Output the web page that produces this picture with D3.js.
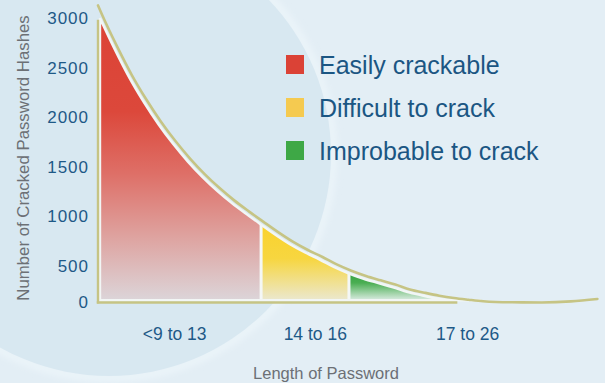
<!DOCTYPE html>
<html>
<head>
<meta charset="utf-8">
<script src="https://cdn.jsdelivr.net/npm/d3@7"></script>
<style>
  html, body { margin: 0; padding: 0; background: #e2eef5; }
  svg { display: block; font-family: "Liberation Sans", Arial, sans-serif; }
</style>
</head>
<body>
<svg id="chart" width="605" height="383"></svg>
<script>
// Password length (characters) sampled along the curve
const lengths = [7.85, 8, 8.5, 9, 9.5, 10, 10.5, 11, 11.5, 12, 12.5, 13, 13.5, 14, 14.5,
                 15, 15.5, 16, 16.5, 17, 17.5, 18, 18.5, 19, 19.5, 20, 20.5, 21, 22, 23, 24, 24.9];
// Number of cracked password hashes at each length
const crackedHashes = [3102, 3000, 2688, 2401, 2151, 1927, 1729, 1552, 1395, 1256, 1132, 1021, 915, 811, 715,
                       633, 562, 479, 393, 321, 262, 205, 138, 93, 52, 20, -3, -23, -38, -40, -26, 7];

// Length ranges for each crackability class
const bandStart = [8, 13.5, 16.5];
const bandEnd   = [13.5, 16.5, 20.3];
const bandNames = ["Easily crackable", "Difficult to crack", "Improbable to crack"];

// Category labels under the axis and where they sit on the length scale
const categories = ["<9 to 13", "14 to 16", "17 to 26"];
const categoryAt = [10.55, 15.35, 20.55];

const yTicks = [0, 500, 1000, 1500, 2000, 2500, 3000];
const axisEndLength = 20.2;

const svg = d3.select("#chart");
const W = 605, H = 383;

const x = d3.scaleLinear().domain([8, 24.9]).range([100, 595]);
// the lowest step of the value axis is drawn compressed
const y = d3.scaleLinear().domain([0, 500, 3000]).range([302.3, 265.7, 18.3]);

const points = lengths.map((L, i) => ({ L, v: crackedHashes[i] }));
const valueAt = d3.scaleLinear().domain(lengths).range(crackedHashes);

const defs = svg.append("defs");

// background with the large soft disc
svg.append("rect").attr("width", W).attr("height", H).attr("fill", "#e3eef5");
const soft = defs.append("filter").attr("id", "soft")
  .attr("x", "-20%").attr("y", "-20%").attr("width", "140%").attr("height", "140%");
soft.append("feGaussianBlur").attr("stdDeviation", 3);
svg.append("circle").attr("cx", 109).attr("cy", 154).attr("r", 224)
  .attr("fill", "none").attr("stroke", "#ebf4f9").attr("stroke-width", 8).attr("filter", "url(#soft)");
svg.append("circle").attr("cx", 109).attr("cy", 154).attr("r", 222).attr("fill", "#d8e8f1");

// fill gradients
const gradStops = [
  [[0, "#dc4336"], [0.33, "#dc483b"], [0.55, "#de6f67"], [0.78, "#dea4a1"], [1, "#dcd5d9"]],
  [[0, "#fad22c"], [0.45, "#f7d640"], [1, "#ebe8cf"]],
  [[0, "#37a343"], [0.35, "#4aae52"], [1, "#dcece3"]]
];
const floorY = y(0) - 2;
bandStart.forEach((s, i) => {
  const g = defs.append("linearGradient").attr("id", "grad" + i)
    .attr("gradientUnits", "userSpaceOnUse")
    .attr("x1", 0).attr("x2", 0)
    .attr("y1", y(valueAt(s))).attr("y2", floorY);
  gradStops[i].forEach(([o, c]) => g.append("stop").attr("offset", o).attr("stop-color", c));
});

const area = d3.area()
  .x(d => x(d.L))
  .y0(floorY)
  .y1(d => Math.min(y(d.v), floorY))
  .curve(d3.curveMonotoneX);
const areaPath = area(points.filter(d => d.L >= 8 && d.L <= 21));

defs.append("clipPath").attr("id", "shape").append("path").attr("d", areaPath);

bandStart.forEach((s, i) => {
  defs.append("clipPath").attr("id", "band" + i)
    .append("rect")
    .attr("x", x(s)).attr("y", 0)
    .attr("width", x(bandEnd[i]) - x(s)).attr("height", H);
  svg.append("path")
    .attr("d", areaPath)
    .attr("clip-path", `url(#band${i})`)
    .attr("fill", `url(#grad${i})`);
});

// white separators between the classes
const sep = svg.append("g").attr("clip-path", "url(#shape)");
bandStart.slice(1).forEach(s => {
  sep.append("line")
    .attr("x1", x(s)).attr("x2", x(s))
    .attr("y1", 0).attr("y2", H)
    .attr("stroke", "#f4f7f6").attr("stroke-width", 3);
});
// white rim round the filled region
svg.append("path")
  .attr("d", areaPath)
  .attr("fill", "none")
  .attr("stroke", "#f2f6f5")
  .attr("stroke-width", 2.4);

// trend line riding just above the curve
const line = d3.line().x(d => x(d.L)).y(d => y(d.v)).curve(d3.curveMonotoneX);
svg.append("path")
  .attr("d", line(points))
  .attr("transform", "translate(2.4,-2.8)")
  .attr("fill", "none")
  .attr("stroke", "#c6c484")
  .attr("stroke-width", 2.6)
  .attr("stroke-linecap", "round");

// axes
const axisColor = "#c6c484";
svg.append("line")
  .attr("x1", x(8) - 2).attr("x2", x(8) - 2)
  .attr("y1", y(3000) + 1.5).attr("y2", y(0) + 1.3)
  .attr("stroke", axisColor).attr("stroke-width", 2.4);
svg.append("line")
  .attr("x1", x(8) - 3.2).attr("x2", x(axisEndLength))
  .attr("y1", y(0) + 0.2).attr("y2", y(0) + 0.2)
  .attr("stroke", axisColor).attr("stroke-width", 2.4);

// value labels
svg.append("g").selectAll("text").data(yTicks).join("text")
  .attr("x", 89)
  .attr("y", d => y(d))
  .attr("dy", "0.36em")
  .attr("text-anchor", "end")
  .attr("fill", "#1e5987")
  .attr("font-size", "17px")
  .attr("letter-spacing", "1px")
  .text(d => d);

// category labels
svg.append("g").selectAll("text").data(categories).join("text")
  .attr("x", (d, i) => x(categoryAt[i]))
  .attr("y", 340)
  .attr("text-anchor", "middle")
  .attr("fill", "#1e5987")
  .attr("font-size", "17.5px")
  .text(d => d);

// axis titles
svg.append("text")
  .attr("x", 326).attr("y", 379)
  .attr("text-anchor", "middle")
  .attr("fill", "#6c7075")
  .attr("font-size", "16.5px")
  .text("Length of Password");
svg.append("text")
  .attr("transform", "translate(28.5,158) rotate(-90)")
  .attr("text-anchor", "middle")
  .attr("fill", "#6c7075")
  .attr("font-size", "16.8px")
  .text("Number of Cracked Password Hashes");

// legend
const legendColors = ["#db4236", "#f5ca50", "#3ea846"];
const legend = svg.append("g").selectAll("g").data(bandNames).join("g")
  .attr("transform", (d, i) => `translate(286,${55 + i * 43})`);
legend.append("rect").attr("width", 18).attr("height", 19)
  .attr("fill", (d, i) => legendColors[i]);
legend.append("text")
  .attr("x", 33).attr("y", 19)
  .attr("fill", "#1b5683")
  .attr("font-size", "25px")
  .text(d => d);
</script>
</body>
</html>
